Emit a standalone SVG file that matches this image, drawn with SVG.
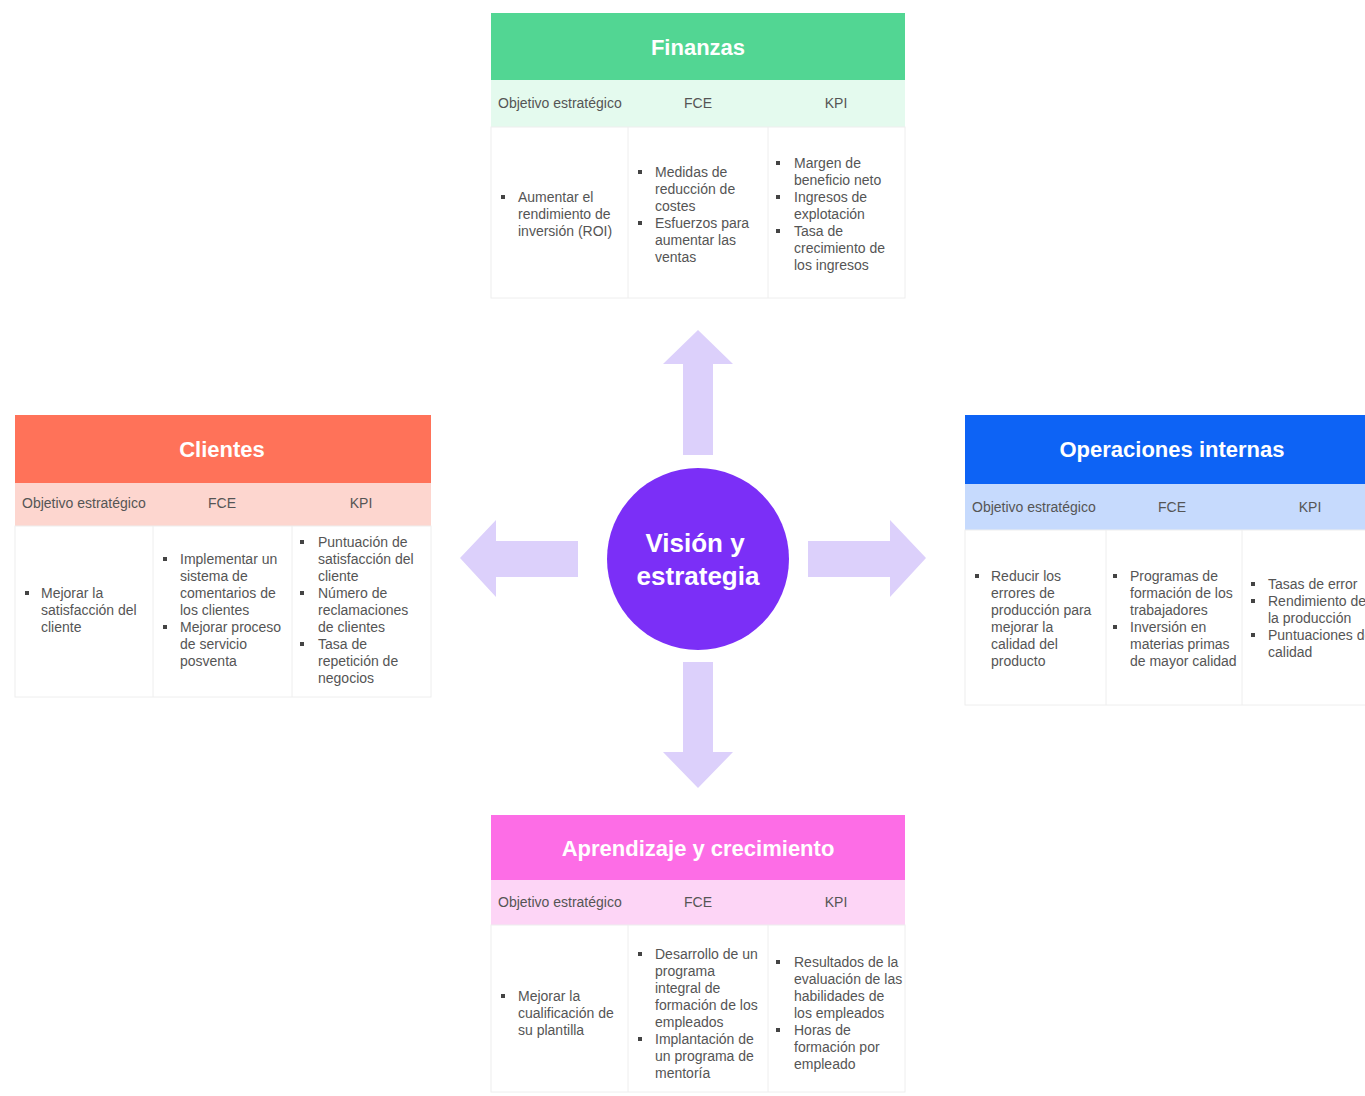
<svg xmlns="http://www.w3.org/2000/svg" width="1365" height="1096" viewBox="0 0 1365 1096">
<style>
.hdr{font-family:"Liberation Sans",Arial,sans-serif;font-size:22px;font-weight:bold;fill:#fff;text-anchor:middle}
.sub{font-family:"Liberation Sans",Arial,sans-serif;font-size:14px;fill:#555}
.mid{text-anchor:middle}
.bt{font-family:"Liberation Sans",Arial,sans-serif;font-size:14px;fill:#555}
.body{fill:#fff;stroke:#eeeeee;stroke-width:1}
.div{stroke:#eeeeee;stroke-width:1}
.arrow{fill:#dcd0fb}
.ctr{font-family:"Liberation Sans",Arial,sans-serif;font-size:26px;font-weight:bold;fill:#fff;text-anchor:middle}
</style>
<defs>
<g id="dot"><rect x="-2" y="-7" width="4" height="4" fill="#444"/></g>
</defs>
<rect width="1365" height="1096" fill="#fff"/>

<g id="connectors">
<path class="arrow" d="M683,455 L683,364 L663,364 L698,330 L733,364 L713,364 L713,455 Z"/>
<path class="arrow" d="M683,662 L683,752 L663,752 L698,788 L733,752 L713,752 L713,662 Z"/>
<path class="arrow" d="M578,541 L496,541 L496,520 L460,558 L496,597 L496,577 L578,577 Z"/>
<path class="arrow" d="M808,541 L890,541 L890,520 L926,558 L890,597 L890,577 L808,577 Z"/>
</g>

<g id="center">
<circle cx="698" cy="559" r="91" fill="#7b2ff7"/>
<text class="ctr" x="695" y="552">Visión y</text>
<text class="ctr" x="698" y="585">estrategia</text>
</g>

<g id="finanzas">
<rect x="491" y="13" width="414" height="67" fill="#52d693"/>
<text class="hdr" x="698" y="55">Finanzas</text>
<rect x="491" y="80" width="414" height="47" fill="#e4faee"/>
<text class="sub" x="498" y="108">Objetivo estratégico</text>
<text class="sub mid" x="698" y="108">FCE</text>
<text class="sub mid" x="836" y="108">KPI</text>
<rect class="body" x="491" y="127" width="414" height="171"/>
<line class="div" x1="628" y1="127" x2="628" y2="298"/>
<line class="div" x1="768" y1="127" x2="768" y2="298"/>
<use href="#dot" x="503" y="202"/>
<text class="bt" x="518" y="202">Aumentar el</text>
<text class="bt" x="518" y="219">rendimiento de</text>
<text class="bt" x="518" y="236">inversión (ROI)</text>
<use href="#dot" x="640" y="177"/>
<text class="bt" x="655" y="177">Medidas de</text>
<text class="bt" x="655" y="194">reducción de</text>
<text class="bt" x="655" y="211">costes</text>
<use href="#dot" x="640" y="228"/>
<text class="bt" x="655" y="228">Esfuerzos para</text>
<text class="bt" x="655" y="245">aumentar las</text>
<text class="bt" x="655" y="262">ventas</text>
<use href="#dot" x="778" y="168"/>
<text class="bt" x="794" y="168">Margen de</text>
<text class="bt" x="794" y="185">beneficio neto</text>
<use href="#dot" x="778" y="202"/>
<text class="bt" x="794" y="202">Ingresos de</text>
<text class="bt" x="794" y="219">explotación</text>
<use href="#dot" x="778" y="236"/>
<text class="bt" x="794" y="236">Tasa de</text>
<text class="bt" x="794" y="253">crecimiento de</text>
<text class="bt" x="794" y="270">los ingresos</text>
</g>

<g id="clientes">
<rect x="15" y="415" width="416" height="68" fill="#ff7259"/>
<text class="hdr" x="222" y="457">Clientes</text>
<rect x="15" y="483" width="416" height="43" fill="#fdd6cf"/>
<text class="sub" x="22" y="508">Objetivo estratégico</text>
<text class="sub mid" x="222" y="508">FCE</text>
<text class="sub mid" x="361" y="508">KPI</text>
<rect class="body" x="15" y="526" width="416" height="171"/>
<line class="div" x1="153" y1="526" x2="153" y2="697"/>
<line class="div" x1="292" y1="526" x2="292" y2="697"/>
<use href="#dot" x="27" y="598"/>
<text class="bt" x="41" y="598">Mejorar la</text>
<text class="bt" x="41" y="615">satisfacción del</text>
<text class="bt" x="41" y="632">cliente</text>
<use href="#dot" x="165" y="564"/>
<text class="bt" x="180" y="564">Implementar un</text>
<text class="bt" x="180" y="581">sistema de</text>
<text class="bt" x="180" y="598">comentarios de</text>
<text class="bt" x="180" y="615">los clientes</text>
<use href="#dot" x="165" y="632"/>
<text class="bt" x="180" y="632">Mejorar proceso</text>
<text class="bt" x="180" y="649">de servicio</text>
<text class="bt" x="180" y="666">posventa</text>
<use href="#dot" x="302" y="547"/>
<text class="bt" x="318" y="547">Puntuación de</text>
<text class="bt" x="318" y="564">satisfacción del</text>
<text class="bt" x="318" y="581">cliente</text>
<use href="#dot" x="302" y="598"/>
<text class="bt" x="318" y="598">Número de</text>
<text class="bt" x="318" y="615">reclamaciones</text>
<text class="bt" x="318" y="632">de clientes</text>
<use href="#dot" x="302" y="649"/>
<text class="bt" x="318" y="649">Tasa de</text>
<text class="bt" x="318" y="666">repetición de</text>
<text class="bt" x="318" y="683">negocios</text>
</g>

<g id="operaciones">
<rect x="965" y="415" width="414" height="69" fill="#0d63f5"/>
<text class="hdr" x="1172" y="457">Operaciones internas</text>
<rect x="965" y="484" width="414" height="46" fill="#c6dafd"/>
<text class="sub" x="972" y="512">Objetivo estratégico</text>
<text class="sub mid" x="1172" y="512">FCE</text>
<text class="sub mid" x="1310" y="512">KPI</text>
<rect class="body" x="965" y="530" width="414" height="175"/>
<line class="div" x1="1106" y1="530" x2="1106" y2="705"/>
<line class="div" x1="1242" y1="530" x2="1242" y2="705"/>
<use href="#dot" x="977" y="581"/>
<text class="bt" x="991" y="581">Reducir los</text>
<text class="bt" x="991" y="598">errores de</text>
<text class="bt" x="991" y="615">producción para</text>
<text class="bt" x="991" y="632">mejorar la</text>
<text class="bt" x="991" y="649">calidad del</text>
<text class="bt" x="991" y="666">producto</text>
<use href="#dot" x="1115" y="581"/>
<text class="bt" x="1130" y="581">Programas de</text>
<text class="bt" x="1130" y="598">formación de los</text>
<text class="bt" x="1130" y="615">trabajadores</text>
<use href="#dot" x="1115" y="632"/>
<text class="bt" x="1130" y="632">Inversión en</text>
<text class="bt" x="1130" y="649">materias primas</text>
<text class="bt" x="1130" y="666">de mayor calidad</text>
<use href="#dot" x="1253" y="589"/>
<text class="bt" x="1268" y="589">Tasas de error</text>
<use href="#dot" x="1253" y="606"/>
<text class="bt" x="1268" y="606">Rendimiento de</text>
<text class="bt" x="1268" y="623">la producción</text>
<use href="#dot" x="1253" y="640"/>
<text class="bt" x="1268" y="640">Puntuaciones de</text>
<text class="bt" x="1268" y="657">calidad</text>
</g>

<g id="aprendizaje">
<rect x="491" y="815" width="414" height="65" fill="#fd6de6"/>
<text class="hdr" x="698" y="856">Aprendizaje y crecimiento</text>
<rect x="491" y="880" width="414" height="45" fill="#fdd5f6"/>
<text class="sub" x="498" y="907">Objetivo estratégico</text>
<text class="sub mid" x="698" y="907">FCE</text>
<text class="sub mid" x="836" y="907">KPI</text>
<rect class="body" x="491" y="925" width="414" height="167"/>
<line class="div" x1="628" y1="925" x2="628" y2="1092"/>
<line class="div" x1="768" y1="925" x2="768" y2="1092"/>
<use href="#dot" x="503" y="1001"/>
<text class="bt" x="518" y="1001">Mejorar la</text>
<text class="bt" x="518" y="1018">cualificación de</text>
<text class="bt" x="518" y="1035">su plantilla</text>
<use href="#dot" x="640" y="959"/>
<text class="bt" x="655" y="959">Desarrollo de un</text>
<text class="bt" x="655" y="976">programa</text>
<text class="bt" x="655" y="993">integral de</text>
<text class="bt" x="655" y="1010">formación de los</text>
<text class="bt" x="655" y="1027">empleados</text>
<use href="#dot" x="640" y="1044"/>
<text class="bt" x="655" y="1044">Implantación de</text>
<text class="bt" x="655" y="1061">un programa de</text>
<text class="bt" x="655" y="1078">mentoría</text>
<use href="#dot" x="778" y="967"/>
<text class="bt" x="794" y="967">Resultados de la</text>
<text class="bt" x="794" y="984">evaluación de las</text>
<text class="bt" x="794" y="1001">habilidades de</text>
<text class="bt" x="794" y="1018">los empleados</text>
<use href="#dot" x="778" y="1035"/>
<text class="bt" x="794" y="1035">Horas de</text>
<text class="bt" x="794" y="1052">formación por</text>
<text class="bt" x="794" y="1069">empleado</text>
</g>
</svg>
